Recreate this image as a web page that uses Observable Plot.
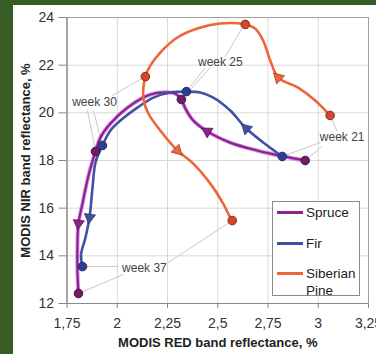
<!DOCTYPE html>
<html>
<head>
<meta charset="utf-8">
<script src="https://cdn.jsdelivr.net/npm/d3@7"></script>
<script src="https://cdn.jsdelivr.net/npm/@observablehq/plot@0.6"></script>
<style>
  html, body { margin: 0; padding: 0; }
  body { width: 376px; height: 354px; background: #375c25; position: relative; overflow: hidden;
         font-family: "Liberation Sans", Arial, sans-serif; }
  #panel { position: absolute; left: 13px; top: 5px; right: 0; bottom: 0; background: #fff; }
  #chart { position: absolute; left: 0; top: 0; }
  #legend { position: absolute; left: 272px; top: 201px; width: 86px; height: 93px;
            border: 1px solid #8a8a8a; background: #fff; }
  .item { position: absolute; left: 4px; font-size: 13.5px; color: #222; line-height: 17px; }
  .sw { position: absolute; left: 0; width: 26px; height: 3px; }
  .lbl { position: absolute; left: 29px; white-space: nowrap; }
</style>
</head>
<body>
<div id="panel"></div>
<div id="chart"></div>
<div id="legend"></div>
<script>
// ---- data ----
const xTicks = [1.75, 2, 2.25, 2.5, 2.75, 3, 3.25];
const yTicks = [12, 14, 16, 18, 20, 22, 24];
const seriesNames = ["Spruce", "Fir", "Siberian Pine"];
const weekLabels = ["week 21", "week 25", "week 30", "week 37"];
const weekLabelX = [3.119, 2.513, 1.887, 2.135];
const weekLabelY = [18.96, 22.11, 20.43, 13.47];

// marked weekly points (weeks 21, 25, 30, 37)
const spruceWeeks = [[2.935, 18.00], [2.319, 20.56], [1.892, 18.38], [1.807, 12.42]];
const firWeeks    = [[2.821, 18.17], [2.344, 20.89], [1.926, 18.63], [1.827, 13.55]];
const pineWeeks   = [[3.059, 19.89], [2.637, 23.71], [2.140, 21.52], [2.572, 15.48]];

// traced curve paths
const sprucePath = [[2.935,18.00],[2.826,18.17],[2.696,18.42],[2.562,18.75],[2.448,19.22],[2.378,19.68],[2.339,20.18],[2.319,20.56],[2.290,20.80],[2.245,20.86],[2.165,20.77],[2.051,20.22],[1.966,19.55],[1.916,18.96],[1.892,18.38],[1.857,17.37],[1.827,16.19],[1.807,15.36],[1.802,14.43],[1.802,13.38],[1.807,12.42]];
const firPath = [[2.821,18.17],[2.746,18.63],[2.642,19.34],[2.562,20.10],[2.478,20.64],[2.413,20.85],[2.344,20.89],[2.264,20.85],[2.180,20.64],[2.100,20.22],[2.016,19.68],[1.966,19.26],[1.926,18.63],[1.892,17.92],[1.877,16.87],[1.862,15.61],[1.842,14.77],[1.820,14.05],[1.827,13.55]];
const pinePath = [[3.059,19.89],[2.985,20.52],[2.900,21.06],[2.801,21.48],[2.761,22.20],[2.726,23.03],[2.686,23.54],[2.637,23.71],[2.513,23.75],[2.398,23.54],[2.299,23.16],[2.214,22.53],[2.165,21.99],[2.140,21.52],[2.130,20.64],[2.155,19.97],[2.214,19.26],[2.299,18.42],[2.378,17.87],[2.463,17.03],[2.527,16.19],[2.562,15.61],[2.572,15.48]];

// direction arrows along the curves
const spruceArrows = [[2.448, 19.22], [1.807, 15.36]];
const firArrows    = [[2.642, 19.34], [1.862, 15.61]];
const pineArrows   = [[2.801, 21.48], [2.299, 18.42]];

// leader lines [x1, y1, x2, y2]
const leaders = [
  [3.059,19.89,3.094,19.22],[3.009,18.75,2.821,18.17],[3.019,18.59,2.935,18.00],
  [2.632,23.71,2.537,22.36],[2.438,21.90,2.344,20.89],[2.463,21.90,2.319,20.56],
  [2.140,21.52,1.976,20.73],[1.852,20.10,1.892,18.38],[1.882,20.10,1.926,18.63],
  [2.006,13.55,1.827,13.55],[2.031,13.22,1.807,12.42],[2.254,13.72,2.572,15.48]
];

// ---- styles ----
const lineColors = ["#8a2390", "#4150a4", "#ee6538"];
const markFill = ["#6e1d63", "#2f3f8f", "#d2482c"];
const markStroke = ["#4a1040", "#1f2a6a", "#8a2a18"];

const W = 376, H = 354, ML = 66.5, MR = 8, MT = 17, MB = 51;
const kx = (W - ML - MR) / (xTicks[xTicks.length - 1] - xTicks[0]);
const ky = (H - MT - MB) / (yTicks[yTicks.length - 1] - yTicks[0]);

function arrowData(path, arrows) {
  return arrows.map(([x, y]) => {
    let bi = 0, bd = Infinity;
    path.forEach((p, i) => { const d = (p[0]-x)**2*kx*kx + (p[1]-y)**2*ky*ky; if (d < bd) { bd = d; bi = i; } });
    const a = path[Math.max(0, bi - 1)], b = path[Math.min(path.length - 1, bi + 1)];
    const dx = (b[0] - a[0]) * kx, dy = -(b[1] - a[1]) * ky;
    return {x, y, angle: Math.atan2(dx, -dy) * 180 / Math.PI};
  });
}

const paths = [sprucePath, firPath, pinePath];
const weeks = [spruceWeeks, firWeeks, pineWeeks];
const arrows = [spruceArrows, firArrows, pineArrows];
const fmt = d => String(d).replace(".", ",");

const marks = [
  Plot.gridX(xTicks, {stroke: "#d8d8d8", strokeOpacity: 1}),
  Plot.gridY(yTicks, {stroke: "#d8d8d8", strokeOpacity: 1}),
  Plot.frame({stroke: "#a0a0a0"}),
  Plot.axisX(xTicks, {tickSize: 5, tickPadding: 10, tickFormat: fmt, stroke: "#888", fill: "#333", label: null}),
  Plot.axisY(yTicks, {tickSize: 8, tickPadding: 5, tickFormat: fmt, stroke: "#888", fill: "#333", label: null}),
  Plot.ruleX([xTicks[0]], {stroke: "#888"}),
  Plot.ruleY([yTicks[0]], {stroke: "#888"}),
  Plot.link(leaders, {x1: d => d[0], y1: d => d[1], x2: d => d[2], y2: d => d[3], stroke: "#c8c8c8", strokeWidth: 1})
];

// spruce glow
marks.push(Plot.line(sprucePath, {x: d => d[0], y: d => d[1], curve: "catmull-rom", stroke: "#c64ad0", strokeWidth: 4, strokeOpacity: 0.6}));
paths.forEach((p, i) => {
  marks.push(Plot.line(p, {x: d => d[0], y: d => d[1], curve: "catmull-rom", stroke: lineColors[i], strokeWidth: i === 0 ? 2.2 : 2.6}));
});
arrows.forEach((a, i) => {
  marks.push(Plot.dot(arrowData(paths[i], a), {x: "x", y: "y", symbol: "triangle", r: 4.2, rotate: "angle", fill: lineColors[i], stroke: markStroke[i], strokeWidth: 0.6}));
});
weeks.forEach((w, i) => {
  marks.push(Plot.dot(w, {x: d => d[0], y: d => d[1], r: 4.3, fill: markFill[i], stroke: markStroke[i], strokeWidth: 1}));
});
marks.push(Plot.text(weekLabels, {x: (d, i) => weekLabelX[i], y: (d, i) => weekLabelY[i], text: d => d, fontSize: 12, fill: "#444"}));
marks.push(Plot.text(["MODIS RED band reflectance, %"], {frameAnchor: "bottom", text: d => d, dy: 43, fontSize: 13, fontWeight: "bold", fill: "#222"}));
marks.push(Plot.text(["MODIS NIR band reflectance, %"], {frameAnchor: "left", textAnchor: "middle", text: d => d, dx: -41, rotate: -90, fontSize: 13, fontWeight: "bold", fill: "#222"}));

const chart = Plot.plot({
  width: W, height: H,
  marginLeft: ML, marginRight: MR, marginTop: MT, marginBottom: MB,
  x: {domain: [xTicks[0], xTicks[xTicks.length - 1]]},
  y: {domain: [yTicks[0], yTicks[yTicks.length - 1]]},
  style: {background: "transparent", fontFamily: "'Liberation Sans', Arial, sans-serif", fontSize: "14px", overflow: "visible"},
  marks
});
document.getElementById("chart").append(chart);

// legend
const legend = document.getElementById("legend");
const rows = [{top: 2, names: ["Spruce"]}, {top: 33, names: ["Fir"]}, {top: 63, names: ["Siberian", "Pine"]}];
seriesNames.forEach((name, i) => {
  const item = document.createElement("div");
  item.className = "item";
  item.style.top = rows[i].top + "px";
  const sw = document.createElement("div");
  sw.className = "sw";
  sw.style.top = "7px";
  sw.style.background = lineColors[i];
  const lbl = document.createElement("div");
  lbl.className = "lbl";
  lbl.innerHTML = name.replace(" ", "<br>");
  item.append(sw, lbl);
  legend.append(item);
});
</script>
</body>
</html>
